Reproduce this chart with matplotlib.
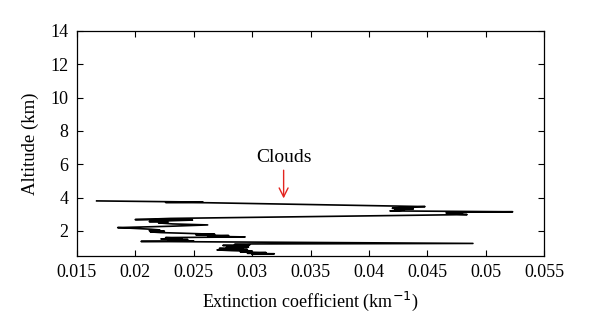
import matplotlib
matplotlib.use("Agg")
import matplotlib.pyplot as plt

# Lidar-derived extinction profile, ordered by altitude
altitude_km = [
    0.60, 0.63, 0.66, 0.70, 0.74, 0.78, 0.82, 0.86, 0.89, 0.92,
    0.95, 0.98, 1.01, 1.04, 1.07, 1.10, 1.13, 1.16, 1.19, 1.22,
    1.25, 1.37, 1.40, 1.44, 1.48, 1.52, 1.56, 1.60, 1.64, 1.68,
    1.72, 1.76, 1.80, 1.86, 1.90, 1.94, 1.98, 2.02, 2.06, 2.10,
    2.15, 2.20, 2.28, 2.36, 2.42, 2.48, 2.52, 2.56, 2.60, 2.65,
    2.68, 2.75, 2.98, 3.02, 3.05, 3.08, 3.12, 3.15, 3.20, 3.25,
    3.28, 3.32, 3.36, 3.42, 3.46, 3.69, 3.71, 3.73, 3.80,
]
extinction_km = [
    0.0300, 0.0319, 0.0296, 0.0312, 0.0290, 0.0300, 0.0282, 0.0270, 0.0296, 0.0280,
    0.0272, 0.0292, 0.0278, 0.0297, 0.0282, 0.0290, 0.0275, 0.0298, 0.0285, 0.0300,
    0.0489, 0.0205, 0.0250, 0.0228, 0.0245, 0.0222, 0.0240, 0.0226, 0.0294, 0.0262,
    0.0280, 0.0252, 0.0268, 0.0242, 0.0222, 0.0213, 0.0225, 0.0212, 0.0221, 0.0214,
    0.0200, 0.0185, 0.0230, 0.0262, 0.0232, 0.0220, 0.0228, 0.0212, 0.0226, 0.0249,
    0.0200, 0.0230, 0.0484, 0.0470, 0.0480, 0.0466, 0.0478, 0.0523, 0.0418, 0.0430,
    0.0422, 0.0438, 0.0420, 0.0432, 0.0448, 0.0262, 0.0226, 0.0258, 0.0167,
]

x_ticks = [0.015, 0.02, 0.025, 0.03, 0.035, 0.04, 0.045, 0.05, 0.055]
x_tick_labels = ["0.015", "0.02", "0.025", "0.03", "0.035", "0.04", "0.045", "0.05", "0.055"]
y_ticks = [2, 4, 6, 8, 10, 12, 14]

cloud_label = "Clouds"
cloud_x = 0.0327
cloud_text_alt = 6.4
cloud_tip_alt = 3.95

plt.rcParams["font.family"] = ["Liberation Serif", "DejaVu Serif"]

fig = plt.figure(figsize=(6.0, 3.35), dpi=100)
ax = fig.add_axes([0.128, 0.236, 0.779, 0.672])

ax.plot(extinction_km, altitude_km, color="black", linewidth=1.2)

ax.annotate(
    cloud_label,
    xy=(cloud_x, cloud_tip_alt),
    xytext=(cloud_x, cloud_text_alt),
    ha="center", va="center", fontsize=14,
    arrowprops=dict(arrowstyle="->", color="#e3241f", lw=1.0,
                    shrinkA=1, shrinkB=0, mutation_scale=16),
)

ax.set_xlim(0.015, 0.055)
ax.set_ylim(0.5, 14)
ax.set_xticks(x_ticks)
ax.set_xticklabels(x_tick_labels)
ax.set_yticks(y_ticks)
ax.tick_params(direction="in", top=True, right=True, labelsize=13,
               length=4, width=0.8, pad=6)
for s in ax.spines.values():
    s.set_linewidth(0.9)

ax.set_xlabel("Extinction coefficient (km$^{-1}$)", fontsize=13, labelpad=6)
ax.set_ylabel("Altitude (km)", fontsize=13.5, labelpad=8)

fig.savefig("out.png", dpi=100)
